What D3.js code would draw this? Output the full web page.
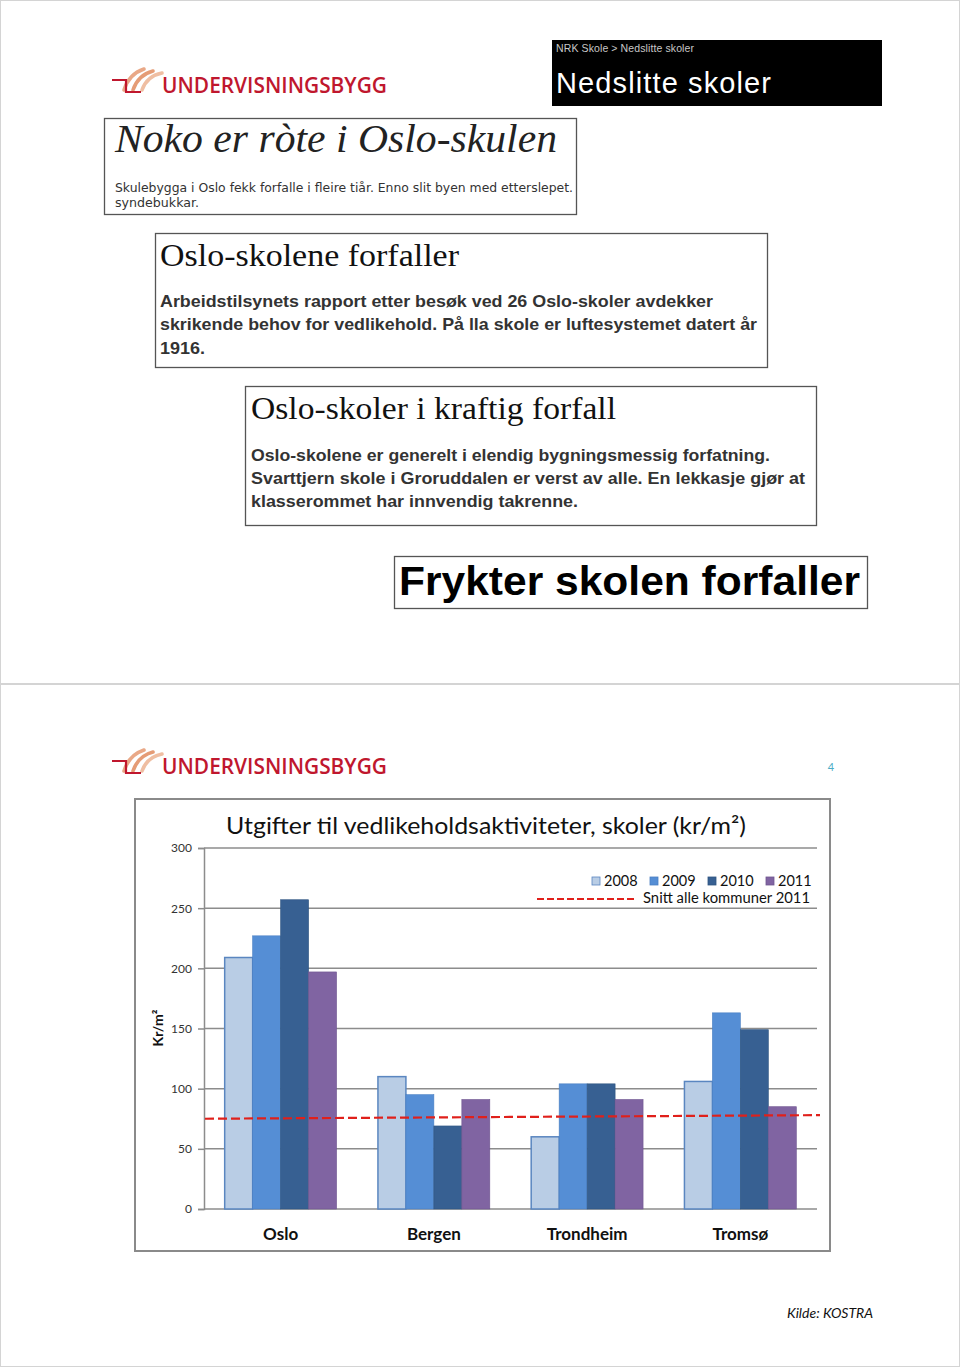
<!DOCTYPE html>
<html>
<head>
<meta charset="utf-8">
<script src="https://cdn.jsdelivr.net/npm/d3@7"></script>
<style>
  html, body { margin: 0; padding: 0; background: #fff; }
  svg { display: block; }
</style>
</head>
<body>
<script>
// ---------- DATA ----------
const categories = ["Oslo", "Bergen", "Trondheim", "Tromsø"];
const years = ["2008", "2009", "2010", "2011"];
const values2008 = [209, 110, 60, 106];
const values2009 = [227, 95, 104, 163];
const values2010 = [257, 69, 104, 149];
const values2011 = [197, 91, 91, 85];
const snittEnds = [75, 78]; // dashed line value at left and right ends (as drawn)
const yTicks = [0, 50, 100, 150, 200, 250, 300];
const chartTitle = "Utgifter til vedlikeholdsaktiviteter, skoler (kr/m²)";
const yAxisTitle = "Kr/m²";
const snittLabel = "Snitt alle kommuner 2011";

const seriesValues = [values2008, values2009, values2010, values2011];
const seriesColors = ["#b9cde5", "#558ed5", "#376092", "#8064a2"];
const seriesStroke = ["#5a86c0", "#4a7fc2", "#2f5580", "#6f5690"];

// ---------- SVG ----------
const svg = d3.select("body").append("svg")
  .attr("width", 960).attr("height", 1367);

svg.append("rect").attr("width", 960).attr("height", 1367).attr("fill", "#fff");

// slide borders
svg.append("rect").attr("x", 0.5).attr("y", 0.5).attr("width", 959).attr("height", 683)
  .attr("fill", "none").attr("stroke", "#d4d4d4");
svg.append("rect").attr("x", 0.5).attr("y", 684.5).attr("width", 959).attr("height", 682)
  .attr("fill", "none").attr("stroke", "#d4d4d4");

// ---------- LOGO ----------
function drawLogo(x, y) {
  const g = svg.append("g").attr("transform", `translate(${x},${y})`);
  // peach swooshes
  const swooshColors = ["#e9a887", "#e59c76", "#efbea2"];
  [0, 1, 2].forEach(i => {
    g.append("path")
      .attr("d", `M${14 + i * 9},${24} Q${19 + i * 9},${8 + i * 1} ${34 + i * 9},${3 + i * 2}`)
      .attr("fill", "none")
      .attr("stroke", swooshColors[i])
      .attr("stroke-width", 3.6)
      .attr("stroke-linecap", "round");
  });
  // red step line
  g.append("path")
    .attr("d", "M2,14 H16 V26 H31")
    .attr("fill", "none").attr("stroke", "#c0172e").attr("stroke-width", 2.2);
  g.append("text")
    .attr("x", 52).attr("y", 27)
    .attr("font-family", "'Open Sans', sans-serif")
    .attr("font-weight", 600)
    .attr("font-size", 21)
    .attr("fill", "#c0172e")
    .attr("textLength", 225).attr("lengthAdjust", "spacingAndGlyphs")
    .text("UNDERVISNINGSBYGG");
}
drawLogo(110, 66);
drawLogo(110, 747);

// ---------- NRK black header ----------
svg.append("rect").attr("x", 552).attr("y", 40).attr("width", 330).attr("height", 66).attr("fill", "#000");
svg.append("text").attr("x", 556).attr("y", 52)
  .attr("font-family", "'Liberation Sans', Arial, sans-serif").attr("font-size", 10.5)
  .attr("fill", "#c8c8c8").attr("textLength", 138).attr("lengthAdjust", "spacing")
  .text("NRK Skole  >  Nedslitte skoler");
svg.append("text").attr("x", 556).attr("y", 93)
  .attr("font-family", "'Liberation Sans', Arial, sans-serif").attr("font-size", 29)
  .attr("fill", "#fff").attr("textLength", 215).attr("lengthAdjust", "spacing")
  .text("Nedslitte skoler");

// ---------- Headline boxes ----------
function box(x, y, w, h) {
  svg.append("rect").attr("x", x).attr("y", y).attr("width", w).attr("height", h)
    .attr("fill", "#fff").attr("stroke", "#555").attr("stroke-width", 1.3);
}
function line(x, y, txt, opts) {
  const t = svg.append("text").attr("x", x).attr("y", y)
    .attr("font-family", opts.family).attr("font-size", opts.size)
    .attr("fill", opts.fill || "#222")
    .text(txt);
  if (opts.weight) t.attr("font-weight", opts.weight);
  if (opts.style) t.attr("font-style", opts.style);
  if (opts.len) t.attr("textLength", opts.len).attr("lengthAdjust", opts.adjust || "spacing");
  return t;
}

// Box 1
box(104.5, 118.5, 472, 96);
line(115, 152, "Noko er ròte i Oslo-skulen", {family: "'Liberation Serif', serif", size: 39, style: "italic", fill: "#222", len: 442, adjust: "spacingAndGlyphs"});
line(115, 192, "Skulebygga i Oslo fekk forfalle i fleire tiår. Enno slit byen med etterslepet.", {family: "'DejaVu Sans', Verdana, sans-serif", size: 12, fill: "#333", len: 458, adjust: "spacingAndGlyphs"});
line(115, 207, "syndebukkar.", {family: "'DejaVu Sans', Verdana, sans-serif", size: 12, fill: "#333", len: 84, adjust: "spacingAndGlyphs"});

// Box 2
box(155.5, 233.5, 612, 134);
line(160, 266, "Oslo-skolene forfaller", {family: "'Liberation Serif', serif", size: 31, fill: "#111", len: 299, adjust: "spacingAndGlyphs"});
line(160, 307, "Arbeidstilsynets rapport etter besøk ved 26 Oslo-skoler avdekker", {family: "'Liberation Sans', Arial, sans-serif", size: 17, weight: "bold", fill: "#333", len: 553, adjust: "spacingAndGlyphs"});
line(160, 330, "skrikende behov for vedlikehold. På lla skole er luftesystemet datert år", {family: "'Liberation Sans', Arial, sans-serif", size: 17, weight: "bold", fill: "#333", len: 597, adjust: "spacingAndGlyphs"});
line(160, 354, "1916.", {family: "'Liberation Sans', Arial, sans-serif", size: 17, weight: "bold", fill: "#333", len: 45, adjust: "spacingAndGlyphs"});

// Box 3
box(245.5, 386.5, 571, 139);
line(251, 419, "Oslo-skoler i kraftig forfall", {family: "'Liberation Serif', serif", size: 31, fill: "#111", len: 365, adjust: "spacingAndGlyphs"});
line(251, 461, "Oslo-skolene er generelt i elendig bygningsmessig forfatning.", {family: "'Liberation Sans', Arial, sans-serif", size: 17, weight: "bold", fill: "#333", len: 519, adjust: "spacingAndGlyphs"});
line(251, 484, "Svarttjern skole i Groruddalen er verst av alle. En lekkasje gjør at", {family: "'Liberation Sans', Arial, sans-serif", size: 17, weight: "bold", fill: "#333", len: 554, adjust: "spacingAndGlyphs"});
line(251, 507, "klasserommet har innvendig takrenne.", {family: "'Liberation Sans', Arial, sans-serif", size: 17, weight: "bold", fill: "#333", len: 327, adjust: "spacingAndGlyphs"});

// Box 4
box(394.5, 556.5, 473, 52);
line(399, 595, "Frykter skolen forfaller", {family: "'Liberation Sans', Arial, sans-serif", size: 41, weight: "bold", fill: "#000", len: 461, adjust: "spacingAndGlyphs"});

// ---------- Slide 2 extras ----------
svg.append("text").attr("x", 831).attr("y", 771).attr("text-anchor", "middle")
  .attr("font-family", "Lato, sans-serif").attr("font-size", 11).attr("fill", "#4bacc6").text("4");
svg.append("text").attr("x", 787).attr("y", 1318)
  .attr("font-family", "Lato, sans-serif").attr("font-size", 14).attr("font-style", "italic")
  .attr("fill", "#111").text("Kilde: KOSTRA");

// ---------- CHART ----------
svg.append("rect").attr("x", 135).attr("y", 799).attr("width", 695).attr("height", 452)
  .attr("fill", "#fff").attr("stroke", "#8a8a8a").attr("stroke-width", 2);

const plotL = 204, plotR = 817, plotT = 848, plotB = 1209;
const y = d3.scaleLinear().domain([0, 300]).range([plotB, plotT]);
const x0 = d3.scaleBand().domain(categories).range([plotL, plotR]).paddingInner(0.27).paddingOuter(0.135);
const x1 = d3.scaleBand().domain(years).range([0, x0.bandwidth()]);

// gridlines
svg.append("g").selectAll("line").data(yTicks.filter(d => d > 0)).join("line")
  .attr("x1", plotL).attr("x2", plotR)
  .attr("y1", d => y(d)).attr("y2", d => y(d))
  .attr("stroke", "#8c8c8c").attr("stroke-width", 1.5);

// y axis
const yAxis = d3.axisLeft(y).tickValues(yTicks).tickSize(6).tickPadding(6);
const gy = svg.append("g").attr("transform", `translate(${plotL},0)`).call(yAxis);
gy.select(".domain").attr("stroke", "#8c8c8c").attr("stroke-width", 1.5);
gy.selectAll(".tick line").attr("stroke", "#8c8c8c").attr("stroke-width", 1.5);
gy.selectAll(".tick text").attr("font-family", "Lato, sans-serif").attr("font-size", 12).attr("fill", "#333");

// x axis baseline
const xAxis = d3.axisBottom(x0).tickSize(0).tickPadding(19);
const gx = svg.append("g").attr("transform", `translate(0,${plotB})`).call(xAxis);
gx.select(".domain").attr("stroke", "#8c8c8c").attr("stroke-width", 1.5).attr("d", `M${plotL},0H${plotR}`);
gx.selectAll(".tick text").attr("font-family", "Lato, sans-serif").attr("font-size", 17)
  .attr("font-weight", "bold").attr("fill", "#111");

// bars
const barData = [];
categories.forEach((c, ci) => years.forEach((yr, si) => barData.push({c, yr, si, v: seriesValues[si][ci]})));
svg.append("g").selectAll("rect").data(barData).join("rect")
  .attr("x", d => x0(d.c) + x1(d.yr))
  .attr("width", x1.bandwidth())
  .attr("y", d => y(d.v))
  .attr("height", d => y(0) - y(d.v))
  .attr("fill", d => seriesColors[d.si])
  .attr("stroke", d => seriesStroke[d.si])
  .attr("stroke-width", d => d.si === 0 ? 1.5 : 0.6);

// snitt dashed line
svg.append("line")
  .attr("x1", plotL + 1).attr("x2", plotR + 3)
  .attr("y1", y(snittEnds[0])).attr("y2", y(snittEnds[1]))
  .attr("stroke", "#e0201b").attr("stroke-width", 2.2).attr("stroke-dasharray", "9,4");

// title
svg.append("text").attr("x", 486).attr("y", 834).attr("text-anchor", "middle")
  .attr("font-family", "Lato, sans-serif").attr("font-size", 24).attr("fill", "#111")
  .attr("textLength", 520).attr("lengthAdjust", "spacingAndGlyphs")
  .text(chartTitle);

// y axis title
svg.append("text").attr("transform", "translate(163,1028) rotate(-90)")
  .attr("text-anchor", "middle")
  .attr("font-family", "Lato, sans-serif").attr("font-size", 14).attr("font-weight", "bold")
  .attr("fill", "#111").text(yAxisTitle);

// legend
const legendX = [592, 650, 708, 766];
const lg = svg.append("g");
years.forEach((yr, i) => {
  lg.append("rect").attr("x", legendX[i]).attr("y", 877).attr("width", 8).attr("height", 8)
    .attr("fill", seriesColors[i]).attr("stroke", seriesStroke[i]).attr("stroke-width", 0.8);
  lg.append("text").attr("x", legendX[i] + 12).attr("y", 886)
    .attr("font-family", "Lato, sans-serif").attr("font-size", 14.5).attr("fill", "#111").text(yr);
});
lg.append("line").attr("x1", 537).attr("x2", 636).attr("y1", 899).attr("y2", 899)
  .attr("stroke", "#e0201b").attr("stroke-width", 2.2).attr("stroke-dasharray", "7,3");
lg.append("text").attr("x", 643).attr("y", 903)
  .attr("font-family", "Lato, sans-serif").attr("font-size", 14.5).attr("fill", "#111")
  .attr("textLength", 167).attr("lengthAdjust", "spacingAndGlyphs")
  .text(snittLabel);
</script>
</body>
</html>
